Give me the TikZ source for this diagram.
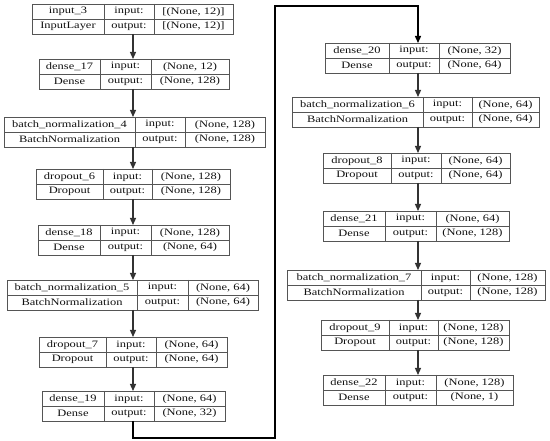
\documentclass[tikz,border=0pt]{standalone}
\usepackage{fontspec}
\setmainfont{Liberation Serif}[FakeStretch=1.27]
\usetikzlibrary{arrows.meta,fit}
\definecolor{boxc}{HTML}{555555}
\definecolor{linec}{HTML}{333333}
\definecolor{txtc}{HTML}{111111}
\pgfqkeys{/lb}{
  name/.store in=\lbname, x1/.store in=\lbxa, d1/.store in=\lbda,
  d2/.store in=\lbdb, x2/.store in=\lbxb, y/.store in=\lby,
  lname/.store in=\lbln, lcls/.store in=\lblc, in/.store in=\lbin,
  out/.store in=\lbout}
\tikzset{
  lbox/.style={draw=boxc, line width=0.9pt, inner sep=0pt, outer sep=0pt},
  divline/.style={draw=boxc, line width=0.9pt},
  txt/.style={inner sep=0pt, text=txtc, font=\fontsize{9.8}{11}\selectfont, anchor=center},
  arr/.style={draw=linec, line width=1.2pt, -{Triangle[length=7pt,width=6pt]}},
}
\newcommand{\layerbox}[1]{%
  \pgfqkeys{/lb}{#1}%
  \pgfmathsetmacro{\lbyb}{\lby+30}%
  \pgfmathsetmacro{\lbym}{\lby+15}%
  \pgfmathsetmacro{\lbta}{\lby+7.8}%
  \pgfmathsetmacro{\lbtb}{\lby+22.5}%
  \pgfmathsetmacro{\lbca}{(\lbxa+\lbda)/2}%
  \pgfmathsetmacro{\lbcb}{(\lbda+\lbdb)/2}%
  \pgfmathsetmacro{\lbcc}{(\lbdb+\lbxb)/2}%
  \node[lbox, fit={(\lbxa,\lby)(\lbxb,\lbyb)}] (\lbname) {};
  \draw[divline] (\lbxa,\lbym) -- (\lbxb,\lbym)
    (\lbda,\lby) -- (\lbda,\lbyb) (\lbdb,\lby) -- (\lbdb,\lbyb);
  \node[txt] (\lbname-n) at (\lbca,\lbta) {\lbln};
  \node[txt] (\lbname-c) at (\lbca,\lbtb) {\lblc};
  \node[txt] (\lbname-i) at (\lbcb,\lbta) {input:};
  \node[txt] (\lbname-o) at (\lbcb,\lbtb) {output:};
  \node[txt] (\lbname-s) at (\lbcc,\lbta) {\lbin};
  \node[txt] (\lbname-t) at (\lbcc,\lbtb) {\lbout};
}
\begin{document}
\begin{tikzpicture}[x=1pt,y=-1pt]
\useasboundingbox[fill=white] (0,0) rectangle (550,441);
\coordinate (colL) at (133,0);
\coordinate (colR) at (418,0);
% left column
\layerbox{name=L1,x1=32,d1=104,d2=154,x2=233,y=4,lname=input\_3,lcls=InputLayer,in={[(None, 12)]},out={[(None, 12)]}}
\layerbox{name=L2,x1=39,d1=100,d2=151,x2=229,y=59,lname=dense\_17,lcls=Dense,in={(None, 12)},out={(None, 128)}}
\layerbox{name=L3,x1=4,d1=135,d2=185,x2=265,y=117,lname=batch\_normalization\_4,lcls=BatchNormalization,in={(None, 128)},out={(None, 128)}}
\layerbox{name=L4,x1=36,d1=103,d2=152,x2=230,y=169,lname=dropout\_6,lcls=Dropout,in={(None, 128)},out={(None, 128)}}
\layerbox{name=L5,x1=38,d1=100,d2=151,x2=229,y=225,lname=dense\_18,lcls=Dense,in={(None, 128)},out={(None, 64)}}
\layerbox{name=L6,x1=7,d1=137,d2=188,x2=258,y=280,lname=batch\_normalization\_5,lcls=BatchNormalization,in={(None, 64)},out={(None, 64)}}
\layerbox{name=L7,x1=39,d1=106,d2=156,x2=227,y=337,lname=dropout\_7,lcls=Dropout,in={(None, 64)},out={(None, 64)}}
\layerbox{name=L8,x1=42,d1=104,d2=154,x2=225,y=391,lname=dense\_19,lcls=Dense,in={(None, 64)},out={(None, 32)}}
% right column
\layerbox{name=R1,x1=325,d1=389,d2=439,x2=510,y=43,lname=dense\_20,lcls=Dense,in={(None, 32)},out={(None, 64)}}
\layerbox{name=R2,x1=292,d1=423,d2=472,x2=539,y=97,lname=batch\_normalization\_6,lcls=BatchNormalization,in={(None, 64)},out={(None, 64)}}
\layerbox{name=R3,x1=323,d1=391,d2=441,x2=510,y=153,lname=dropout\_8,lcls=Dropout,in={(None, 64)},out={(None, 64)}}
\layerbox{name=R4,x1=323,d1=385,d2=436,x2=509,y=211,lname=dense\_21,lcls=Dense,in={(None, 64)},out={(None, 128)}}
\layerbox{name=R5,x1=287,d1=421,d2=470,x2=545,y=270,lname=batch\_normalization\_7,lcls=BatchNormalization,in={(None, 128)},out={(None, 128)}}
\layerbox{name=R6,x1=321,d1=389,d2=438,x2=509,y=320,lname=dropout\_9,lcls=Dropout,in={(None, 128)},out={(None, 128)}}
\layerbox{name=R7,x1=323,d1=385,d2=436,x2=513,y=375,lname=dense\_22,lcls=Dense,in={(None, 128)},out={(None, 1)}}
% connectors
\foreach \a/\b in {L1/L2,L2/L3,L3/L4,L4/L5,L5/L6,L6/L7,L7/L8}
  \draw[arr] (\a.south -| colL) -- (\b.north -| colL);
\foreach \a/\b in {R1/R2,R2/R3,R3/R4,R4/R5,R5/R6,R6/R7}
  \draw[arr] (\a.south -| colR) -- (\b.north -| colR);
\coordinate (b1) at (275,438);
\coordinate (b2) at (275,6);
\draw[arr, draw=black, line width=1.4pt] (L8.south -| colL) |- (b1) -- (b2) -| (R1.north -| colR);
\end{tikzpicture}
\end{document}
